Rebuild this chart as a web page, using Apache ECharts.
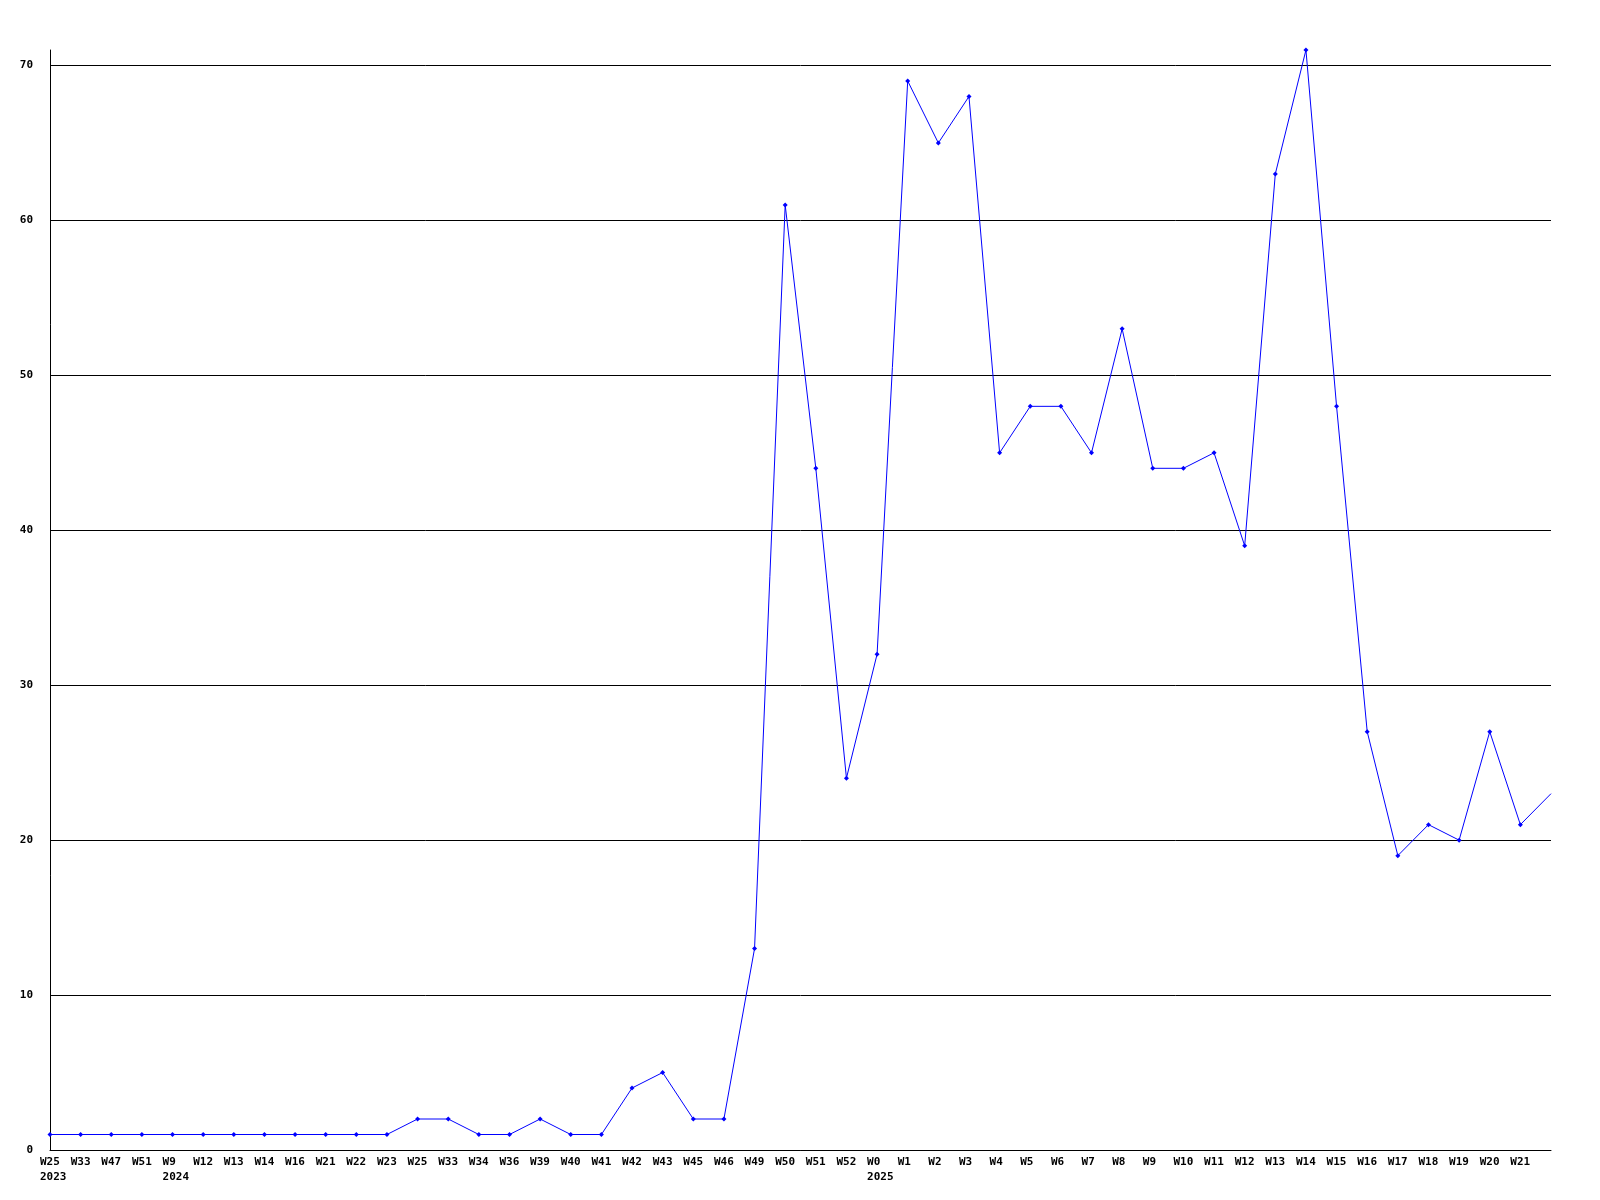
<!DOCTYPE html>
<html>
<head>
<meta charset="utf-8">
<script src="https://cdn.jsdelivr.net/npm/echarts@6/dist/echarts.min.js"></script>
<style>
html,body{margin:0;padding:0;background:#fff;}
#chart{width:1600px;height:1200px;}
</style>
</head>
<body>
<div id="chart"></div>
<script>
const weeks = ['W25','W33','W47','W51','W9','W12','W13','W14','W16','W21','W22','W23','W25','W33','W34','W36','W39','W40','W41','W42','W43','W45','W46','W49','W50','W51','W52','W0','W1','W2','W3','W4','W5','W6','W7','W8','W9','W10','W11','W12','W13','W14','W15','W16','W17','W18','W19','W20','W21','W22'];
const years = ['2023','2023','2023','2023','2024','2024','2024','2024','2024','2024','2024','2024','2024','2024','2024','2024','2024','2024','2024','2024','2024','2024','2024','2024','2024','2024','2024','2025','2025','2025','2025','2025','2025','2025','2025','2025','2025','2025','2025','2025','2025','2025','2025','2025','2025','2025','2025','2025','2025','2025'];
const values = [1,1,1,1,1,1,1,1,1,1,1,1,2,2,1,1,2,1,1,4,5,2,2,13,61,44,24,32,69,65,68,45,48,48,45,53,44,44,45,39,63,71,48,27,19,21,20,27,21,23];
const yTicks = [0,10,20,30,40,50,60,70];

const categories = weeks.map((w,i)=>years[i]+'-'+w);
const firstOfYear = {};
years.forEach((y,i)=>{ if(!(y in firstOfYear)) firstOfYear[y]=i; });

const chart = echarts.init(document.getElementById('chart'));
const font = 'DejaVu Sans Mono';
chart.setOption({
  animation:false,
  backgroundColor:'#ffffff',
  grid:{left:50,right:49,top:50,bottom:50,containLabel:false},
  xAxis:{
    type:'category',
    data:categories,
    boundaryGap:false,
    axisLine:{lineStyle:{color:'#000',width:1}},
    axisTick:{show:false},
    splitLine:{show:false},
    axisLabel:{
      interval:function(i){return i < weeks.length-1;},
      align:'left',
      padding:[0,0,0,-10],
      margin:5,
      fontFamily:font,
      fontWeight:'bold',
      fontSize:11,
      lineHeight:15,
      color:'#000',
      formatter:function(v,i){
        const y = years[i];
        return firstOfYear[y]===i ? weeks[i]+'\n'+y : weeks[i];
      }
    }
  },
  yAxis:{
    type:'value',
    min:0,
    max:71,
    interval:10,
    axisLine:{show:true,lineStyle:{color:'#000',width:1}},
    axisTick:{show:false},
    splitLine:{show:true,showMaxLine:false,lineStyle:{color:'#000',width:1}},
    axisLabel:{
      showMaxLabel:false,
      margin:17,
      fontFamily:font,
      fontWeight:'bold',
      fontSize:11,
      color:'#000',
      formatter:function(v){return yTicks.indexOf(v)>=0 ? String(v) : '';}
    }
  },
  series:[{
    type:'line',
    data:values.map((v,i)=> i===values.length-1 ? {value:v,symbol:'none'} : v),
    symbol:'diamond',
    symbolSize:5,
    showSymbol:true,
    lineStyle:{color:'#0000ff',width:1},
    itemStyle:{color:'#0000ff'},
    z:3
  }]
});
</script>
</body>
</html>
